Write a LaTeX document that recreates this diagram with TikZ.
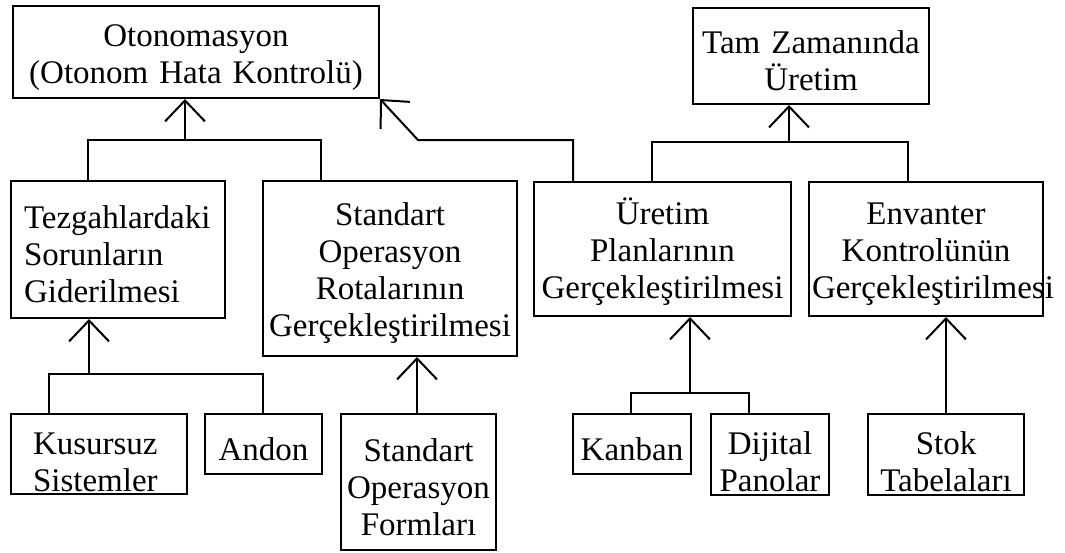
\documentclass[tikz,border=0pt]{standalone}
\usepackage{fontspec}
\setmainfont{Liberation Serif}
\usetikzlibrary{arrows.meta}

\tikzset{
  kutu/.style={draw, line width=2pt, anchor=north west, inner xsep=3pt, inner ysep=0pt,
    align=center, font=\fontsize{33}{37}\selectfont,
    execute at begin node={\rule{0pt}{33pt}}},
  sarkik/.style={text height=30pt, text depth=30pt},
  hat/.style={line width=2pt},
  ok/.style={line width=2pt, -{Straight Barb[length=21pt,width=40pt]}}
}

\begin{document}
\begin{tikzpicture}[x=1pt, y=-1pt]
  \useasboundingbox (0,0) rectangle (1065,552);
  % ust seviye
  \node[kutu, minimum height=92pt, text width=360pt] (otonom) at (12,5) {Otonomasyon\\(Otonom Hata Kontrolü)};
  \node[kutu, minimum height=96pt, text width=230pt] (tz) at (692,7) {Tam Zamanında\\Üretim};
  % orta seviye
  \node[kutu, align=left, inner xsep=13pt, minimum height=137pt, text width=188pt] (tezgah) at (10,180) {Tezgahlardaki\\Sorunların\\Giderilmesi};
  \node[kutu, minimum height=175pt, text width=248pt] (standart) at (262,180) {Standart\\Operasyon\\Rotalarının\\Gerçekleştirilmesi};
  \node[kutu, minimum height=134pt, text width=251pt] (uretim) at (533,181) {Üretim\\Planlarının\\Gerçekleştirilmesi};
  \node[kutu, minimum height=134pt, text width=228pt] (envanter) at (808,181) {Envanter\\Kontrolünün\\Gerçekleştirilmesi};
  % alt seviye
  \node[kutu, sarkik, align=left, inner xsep=22pt, minimum height=80pt, text width=132pt] (kusursuz) at (10,413) {Kusursuz\\Sistemler};
  \node[kutu, minimum height=60pt, text width=111pt] (andon) at (204,413) {Andon};
  \node[kutu, minimum height=136pt, text width=149pt] (formlari) at (340,413) {Standart\\Operasyon\\Formları};
  \node[kutu, minimum height=60pt, text width=112pt] (kanban) at (572,413) {Kanban};
  \node[kutu, sarkik, minimum height=81pt, text width=112pt] (dijital) at (710,413) {Dijital\\Panolar};
  \node[kutu, sarkik, minimum height=81pt, text width=150pt] (stok) at (867,413) {Stok\\Tabelaları};

  % baglantilar
  \coordinate (k1) at (185,140);
  \coordinate (k2) at (418,140);
  \coordinate (k3) at (789,142);
  \coordinate (k4) at (89,374);
  \coordinate (k5) at ([xshift=77pt]formlari.north west);
  \coordinate (k6) at (690,393);
  \coordinate (k7) at ([xshift=79pt]stok.north west);

  \draw[hat] ([xshift=78pt]tezgah.north west) |- (k1) -| ([xshift=59pt]standart.north west);
  \draw[ok] (k1) -- (k1 |- otonom.south);
  \draw[ok] ([xshift=40pt]uretim.north west) |- (k2) -- (otonom.south east);
  \draw[hat] ([xshift=119pt]uretim.north west) |- (k3) -| ([xshift=100pt]envanter.north west);
  \draw[ok] (k3) -- (k3 |- tz.south);
  \draw[hat] ([xshift=39pt]kusursuz.north west) |- (k4) -| ([xshift=59pt]andon.north west);
  \draw[ok] (k4) -- (k4 |- tezgah.south);
  \draw[ok] (k5) -- (k5 |- standart.south);
  \draw[hat] ([xshift=59pt]kanban.north west) |- (k6) -| ([xshift=39pt]dijital.north west);
  \draw[ok] (k6) -- (k6 |- uretim.south);
  \draw[ok] (k7) -- (k7 |- envanter.south);
\end{tikzpicture}
\end{document}
